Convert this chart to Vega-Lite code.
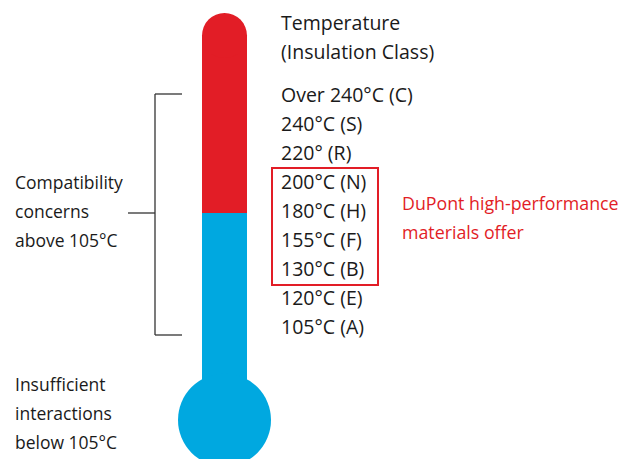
{
  "$schema": "https://vega.github.io/schema/vega-lite/v6.json",
  "width": 636,
  "height": 459,
  "padding": 0,
  "autosize": {"type": "none"},
  "background": "white",
  "config": {"view": {"stroke": null}},
  "layer": [
    {
      "data": {"values": [
        {"part": "hot", "x0": 202, "x1": 247, "y0": 35, "y1": 213},
        {"part": "cool", "x0": 202, "x1": 247, "y0": 213, "y1": 390}
      ]},
      "mark": {"type": "rect"},
      "encoding": {
        "x": {"field": "x0", "type": "quantitative", "scale": {"domain": [0, 636], "padding": 0, "nice": false, "zero": false}, "axis": null},
        "x2": {"field": "x1"},
        "y": {"field": "y0", "type": "quantitative", "scale": {"domain": [459, 0], "padding": 0, "nice": false, "zero": false}, "axis": null},
        "y2": {"field": "y1"},
        "color": {"field": "part", "type": "nominal", "scale": {"domain": ["hot", "cool"], "range": ["#E21D26", "#00A8E0"]}, "legend": null}
      }
    },
    {
      "data": {"values": [
        {"part": "hot", "x": 224.5, "y": 35.5, "d": 45},
        {"part": "cool", "x": 224.5, "y": 420, "d": 93}
      ]},
      "mark": {"type": "point", "shape": "circle", "filled": true, "opacity": 1, "strokeWidth": 0},
      "encoding": {
        "x": {"field": "x", "type": "quantitative"},
        "y": {"field": "y", "type": "quantitative"},
        "size": {"field": "d", "type": "quantitative", "scale": {"type": "pow", "exponent": 2, "domain": [0, 93], "range": [0, 8649]}, "legend": null},
        "color": {"field": "part", "type": "nominal", "legend": null}
      }
    },
    {
      "data": {"values": [
        {"x0": 155, "x1": 155, "y0": 94, "y1": 335},
        {"x0": 155, "x1": 182, "y0": 94, "y1": 94},
        {"x0": 155, "x1": 182, "y0": 335, "y1": 335},
        {"x0": 128, "x1": 155, "y0": 213, "y1": 213}
      ]},
      "mark": {"type": "rule", "color": "#333333", "strokeWidth": 1.3},
      "encoding": {
        "x": {"field": "x0", "type": "quantitative"},
        "x2": {"field": "x1"},
        "y": {"field": "y0", "type": "quantitative"},
        "y2": {"field": "y1"}
      }
    },
    {
      "data": {"values": [{"x0": 272, "x1": 378, "y0": 168, "y1": 285}]},
      "mark": {"type": "rect", "fill": null, "stroke": "#E21D26", "strokeWidth": 2},
      "encoding": {
        "x": {"field": "x0", "type": "quantitative"},
        "x2": {"field": "x1"},
        "y": {"field": "y0", "type": "quantitative"},
        "y2": {"field": "y1"}
      }
    },
    {
      "data": {"values": [
        {"label": "Temperature", "x": 281, "y": 24},
        {"label": "(Insulation Class)", "x": 281, "y": 53},
        {"label": "Over 240°C (C)", "x": 281, "y": 96},
        {"label": "240°C (S)", "x": 281, "y": 125},
        {"label": "220° (R)", "x": 281, "y": 154},
        {"label": "200°C (N)", "x": 281, "y": 183},
        {"label": "180°C (H)", "x": 281, "y": 212},
        {"label": "155°C (F)", "x": 281, "y": 241},
        {"label": "130°C (B)", "x": 281, "y": 270},
        {"label": "120°C (E)", "x": 281, "y": 299},
        {"label": "105°C (A)", "x": 281, "y": 328}
      ]},
      "mark": {"type": "text", "align": "left", "baseline": "middle", "font": "Open Sans", "fontSize": 19.5, "color": "#1a1a1a"},
      "encoding": {
        "x": {"field": "x", "type": "quantitative"},
        "y": {"field": "y", "type": "quantitative"},
        "text": {"field": "label"}
      }
    },
    {
      "data": {"values": [
        {"label": "DuPont high-performance", "x": 402, "y": 205},
        {"label": "materials offer", "x": 402, "y": 234}
      ]},
      "mark": {"type": "text", "align": "left", "baseline": "middle", "font": "Open Sans", "fontSize": 17.8, "color": "#E21D26"},
      "encoding": {
        "x": {"field": "x", "type": "quantitative"},
        "y": {"field": "y", "type": "quantitative"},
        "text": {"field": "label"}
      }
    },
    {
      "data": {"values": [
        {"label": "Compatibility", "x": 15, "y": 184},
        {"label": "concerns", "x": 15, "y": 213},
        {"label": "above 105°C", "x": 15, "y": 242},
        {"label": "Insufficient", "x": 15, "y": 386},
        {"label": "interactions", "x": 15, "y": 415},
        {"label": "below 105°C", "x": 15, "y": 444}
      ]},
      "mark": {"type": "text", "align": "left", "baseline": "middle", "font": "Open Sans", "fontSize": 17.5, "color": "#1a1a1a"},
      "encoding": {
        "x": {"field": "x", "type": "quantitative"},
        "y": {"field": "y", "type": "quantitative"},
        "text": {"field": "label"}
      }
    }
  ]
}
